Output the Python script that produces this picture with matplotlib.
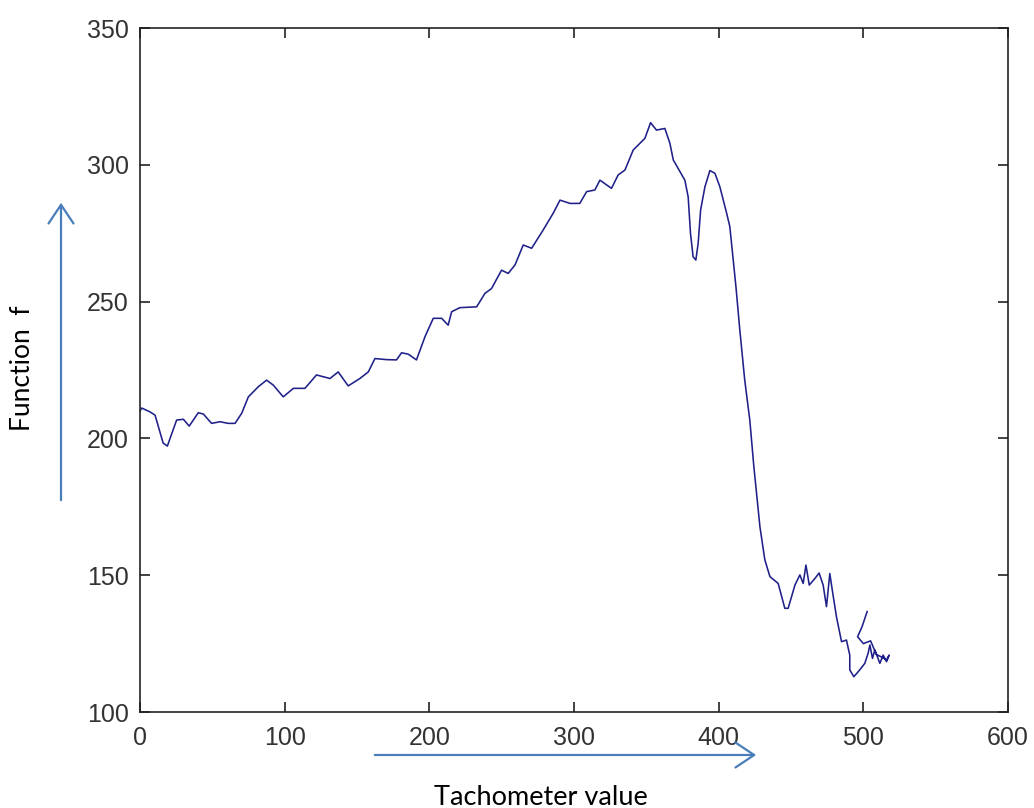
import numpy as np
import matplotlib.pyplot as plt
from matplotlib.patches import FancyArrowPatch

plt.rcParams['font.family'] = ['Liberation Sans', 'DejaVu Sans']

# === Traced curve (tachometer value vs function f) ===
tach = [0, 1.2, 6.9, 10.4, 16, 18.9, 25.3, 30, 34, 40.3, 43.8, 49.5, 55.3, 61, 65.7,
        70.3, 74.9, 81.8, 87.5, 92.1, 99, 106, 114, 122, 131.3, 137, 143.9, 152,
        157.8, 162.4, 170.4, 177.3, 180.8, 185.4, 191.1, 197, 202.7, 208.5, 213,
        215.4, 221.1, 232.7, 238.4, 243, 249.9, 254.5, 259.2, 264.9, 270.7, 278.7,
        285.6, 290.3, 297.2, 304, 308.7, 314.4, 317.9, 325.9, 330.5, 335.2, 340.9,
        349, 352.9, 357, 362.8, 366.3, 368.6, 373.2, 376.6, 378.9, 380.5, 382.3,
        384.2, 385.8, 387.5, 390.5, 393.9, 397.4, 400.8, 405.5, 407.7, 410, 412,
        414.6, 418, 421.5, 424.3, 428.5, 431.9, 435.4, 441.1, 445.7, 448, 452.7,
        456.1, 458.4, 460.3, 462.6, 466.5, 469.4, 472.2, 474.5, 476.8, 478.7,
        481.4, 484.9, 488.3, 490.6, 490.6, 493.4, 497.5, 501, 503.3, 504.5, 506.3,
        507.9, 511.4, 513.7, 516, 517.8, 516, 513, 509, 505, 500, 496, 499.1, 502.6]
func = [210, 211.1, 209.7, 208.5, 198.3, 197.2, 206.7, 207, 204.5, 209.4, 208.9,
        205.5, 206.1, 205.5, 205.5, 209.2, 215.2, 218.9, 221.3, 219.5, 215.2, 218.3,
        218.3, 223.2, 221.9, 224.3, 219.2, 221.9, 224.3, 229.2, 228.8, 228.7, 231.3,
        230.8, 228.7, 237.2, 243.9, 243.9, 241.4, 246.3, 247.8, 248.1, 253, 254.8,
        261.5, 260.3, 263.4, 270.7, 269.5, 276.2, 282.3, 287.1, 285.9, 285.9, 290.2,
        290.8, 294.4, 291.4, 296.3, 298.1, 305.4, 309.7, 315.4, 312.7, 313.3, 307.8,
        301.8, 297.5, 294.4, 288.3, 275, 266.4, 265.2, 271.3, 283.5, 292, 297.9,
        296.9, 292, 282.3, 277.4, 265.2, 255, 239.6, 221.3, 206.7, 189.7, 167.7,
        155.6, 149.5, 147, 137.9, 137.9, 146.4, 150.1, 147, 153.7, 146.4, 148.8,
        150.8, 146.4, 138.5, 150.6, 143.9, 134.8, 125.7, 126.3, 120.8, 115.4, 112.9,
        115.4, 117.8, 121.5, 124.5, 119.6, 122.7, 117.8, 120.8, 118.4, 120.8, 119,
        120, 121, 126, 125, 127.5, 131.2, 136.7]

xticks = [0, 100, 200, 300, 400, 500, 600]
yticks = [100, 150, 200, 250, 300, 350]

fig = plt.figure(figsize=(10.34, 8.08), dpi=100)
ax = fig.add_axes([0.1354, 0.1188, 0.8395, 0.8465])

ax.plot(tach, func, color='#20208a', lw=1.15)
ax.set_xlim(0, 600)
ax.set_ylim(100, 350)
ax.set_xticks(xticks)
ax.set_yticks(yticks)

for sp in ax.spines.values():
    sp.set_linewidth(1.2)
    sp.set_color('#222222')
ax.tick_params(direction='in', length=7, width=1.2, top=True, right=True,
               labelsize=18, labelcolor='#333333', color='#222222')
ax.tick_params(axis='x', pad=10)
ax.tick_params(axis='y', pad=8)

# === Hand-drawn style arrows and labels ===
arrow_col = '#4a7ebb'
fig.patches.append(FancyArrowPatch((0.059, 0.3775), (0.059, 0.7525),
                                   transform=fig.transFigure, arrowstyle='->,head_length=0.9,head_width=0.6',
                                   mutation_scale=15, color=arrow_col, lw=1.6))
fig.patches.append(FancyArrowPatch((0.3598, 0.0656), (0.734, 0.0656),
                                   transform=fig.transFigure, arrowstyle='->,head_length=0.9,head_width=0.6',
                                   mutation_scale=15, color=arrow_col, lw=1.6))

fig.text(0.022, 0.5446, "Function  f", rotation=90, ha='center', va='center',
         fontsize=19, family='Lato', color='black')
fig.text(0.523, 0.0037, "Tachometer value", ha='center', va='baseline',
         fontsize=19.5, family='Lato', color='black')

fig.savefig('out.png', dpi=100)
